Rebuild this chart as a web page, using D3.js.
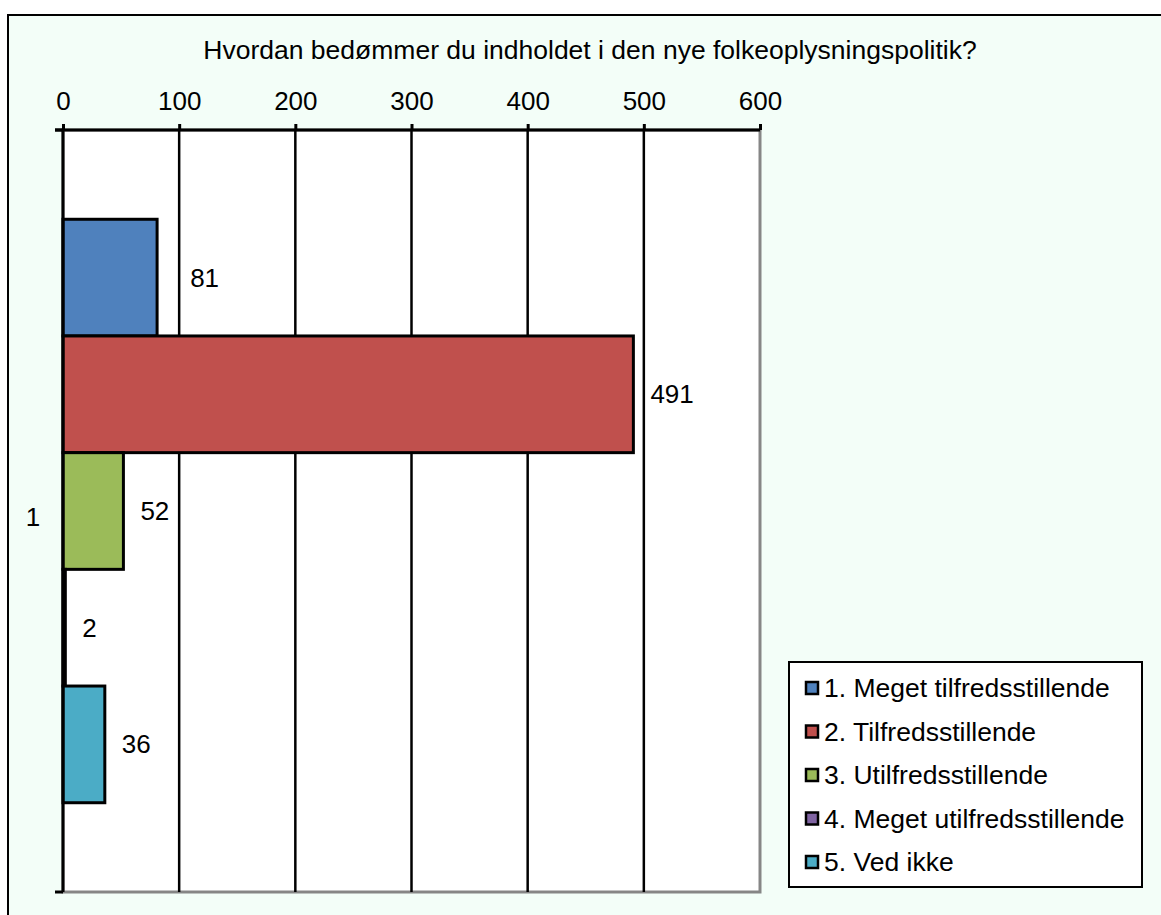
<!DOCTYPE html>
<html>
<head>
<meta charset="utf-8">
<script src="https://cdn.jsdelivr.net/npm/d3@7"></script>
<style>
  body { margin: 0; background: #fff; }
  text { font-family: "Liberation Sans", Arial, sans-serif; fill: #000; }
</style>
</head>
<body>
<div id="roott"></div>
<script>
// DATA
let chartTitle = "Hvordan bedømmer du indholdet i den nye folkeoplysningspolitik?";
let categories = ["1"];
let seriesNames = ["1. Meget tilfredsstillende", "2. Tilfredsstillende", "3. Utilfredsstillende",
  "4. Meget utilfredsstillende", "5. Ved ikke"];
let seriesValues = [81, 491, 52, 2, 36];
let seriesColors = ["#4F81BD", "#C0504D", "#9BBB59", "#8064A2", "#4BACC6"];
let xTicks = [0, 100, 200, 300, 400, 500, 600];

// DIMENSIONS
let widthh = 1161, heightt = 915;
let plotL = 63, plotR = 760, plotT = 130, plotB = 892;

let svg = d3.select('#roott')
  .append('svg')
  .attr('width', widthh)
  .attr('height', heightt);

// chart area background + frame (right/bottom edges run off the picture)
svg.append('rect')
  .attr('x', 8).attr('y', 15)
  .attr('width', 1170).attr('height', 920)
  .style('fill', '#F3FEF8')
  .style('stroke', '#000')
  .style('stroke-width', 2);

// plot area
svg.append('rect')
  .attr('x', plotL).attr('y', plotT)
  .attr('width', plotR - plotL).attr('height', plotB - plotT)
  .style('fill', '#fff')
  .style('stroke', '#868686')
  .style('stroke-width', 3);

// scales
let xScale = d3.scaleLinear().domain([0, 600]).range([plotL, plotR]);
let catScale = d3.scaleBand().domain(categories).range([plotT, plotB]).paddingInner(0).paddingOuter(0);
let serScale = d3.scaleBand().domain(seriesNames)
  .range([0, catScale.bandwidth()])
  .paddingInner(0).paddingOuter(0.765);
let colorScale = d3.scaleOrdinal().domain(seriesNames).range(seriesColors);

// gridlines
svg.append('g')
  .selectAll('line')
  .data(xTicks.filter(d => d > 0 && d < 600))
  .enter()
  .append('line')
  .attr('x1', d => xScale(d)).attr('x2', d => xScale(d))
  .attr('y1', plotT).attr('y2', plotB)
  .style('stroke', '#000')
  .style('stroke-width', 2.5);

// bars
let rows = seriesNames.map((name, i) => ({ cat: categories[0], name: name, value: seriesValues[i] }));

svg.append('g')
  .selectAll('rect')
  .data(rows)
  .enter()
  .append('rect')
  .attr('x', xScale(0))
  .attr('y', d => catScale(d.cat) + serScale(d.name))
  .attr('width', d => xScale(d.value) - xScale(0))
  .attr('height', serScale.bandwidth())
  .style('fill', d => colorScale(d.name))
  .style('stroke', '#000')
  .style('stroke-width', 3);

// data labels (nudged past a gridline when they would sit on it)
let labelFont = 26;
svg.append('g')
  .selectAll('text')
  .data(rows)
  .enter()
  .append('text')
  .attr('x', d => {
    let start = xScale(d.value) + 17;
    let w = String(d.value).length * labelFont * 0.556;
    xTicks.forEach(t => {
      let gx = xScale(t);
      if (t > 0 && gx > start - 4 && gx < start + w) start = gx + 11;
    });
    return start;
  })
  .attr('y', d => catScale(d.cat) + serScale(d.name) + serScale.bandwidth() / 2)
  .attr('dy', '0.35em')
  .style('font-size', labelFont + 'px')
  .text(d => d.value);

// x axis on top
let xAxis = svg.append('g')
  .attr('transform', `translate(0, ${plotT})`)
  .call(d3.axisTop(xScale).tickValues(xTicks).tickSizeInner(6).tickSizeOuter(0).tickPadding(14));
xAxis.select('.domain').remove();
xAxis.append('line')
  .attr('x1', plotL - 8).attr('x2', plotR)
  .attr('y1', 0).attr('y2', 0)
  .style('stroke', '#000').style('stroke-width', 3);
xAxis.selectAll('.tick line').style('stroke', '#000').style('stroke-width', 3);
xAxis.selectAll('.tick text')
  .style('font-size', '26px')
  .style('font-family', '"Liberation Sans", Arial, sans-serif')
  .style('fill', '#000');

// y axis (category)
let yAxis = svg.append('g')
  .attr('transform', `translate(${plotL}, 0)`);
yAxis.append('line')
  .attr('x1', 0).attr('x2', 0)
  .attr('y1', plotT).attr('y2', plotB)
  .style('stroke', '#000').style('stroke-width', 3);
yAxis.selectAll('.edge')
  .data([plotT, plotB])
  .enter()
  .append('line')
  .attr('x1', -8).attr('x2', 0)
  .attr('y1', d => d).attr('y2', d => d)
  .style('stroke', '#000').style('stroke-width', 3);
yAxis.selectAll('.cat')
  .data(categories)
  .enter()
  .append('text')
  .attr('x', -30)
  .attr('y', d => catScale(d) + catScale.bandwidth() / 2 + 6)
  .attr('dy', '0.35em')
  .attr('text-anchor', 'middle')
  .style('font-size', '26px')
  .text(d => d);

// title
svg.append('text')
  .attr('x', 590)
  .attr('y', 59)
  .attr('text-anchor', 'middle')
  .style('font-size', '26.5px')
  .text(chartTitle);

// legend
let legend = svg.append('g').attr('transform', 'translate(789, 662)');
legend.append('rect')
  .attr('width', 353).attr('height', 225)
  .style('fill', '#fff')
  .style('stroke', '#000')
  .style('stroke-width', 2);
let items = legend.selectAll('.item')
  .data(seriesNames)
  .enter()
  .append('g')
  .attr('transform', (d, i) => `translate(0, ${26 + i * 43.5})`);
items.append('rect')
  .attr('x', 17).attr('y', -6)
  .attr('width', 12).attr('height', 12)
  .style('fill', d => colorScale(d))
  .style('stroke', '#000')
  .style('stroke-width', 2.5);
items.append('text')
  .attr('x', 35)
  .attr('y', 0)
  .attr('dy', '0.35em')
  .style('font-size', '26.5px')
  .text(d => d);
</script>
</body>
</html>
